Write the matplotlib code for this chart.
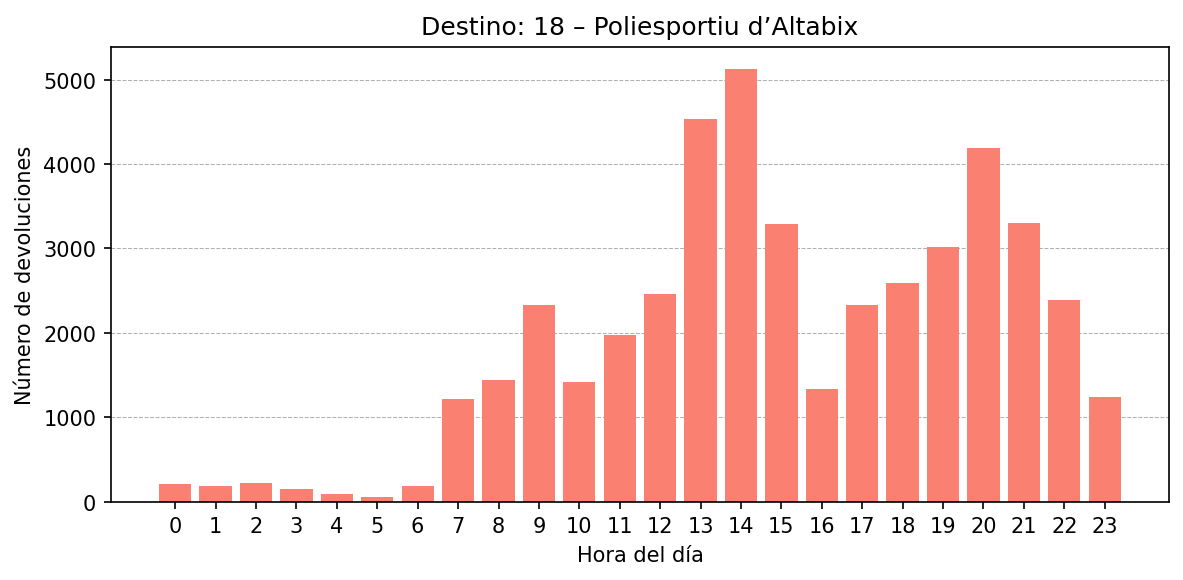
import numpy as np
import matplotlib.pyplot as plt

horas = list(range(24))
devoluciones = [213, 189, 225, 154, 95, 59, 189, 1217, 1442, 2329,
                1418, 1974, 2459, 4539, 5130, 3286, 1336, 2329, 2589, 3014,
                4184, 3298, 2388, 1241]

fig = plt.figure(figsize=(7.8933, 3.8733), dpi=150)
ax = fig.add_axes([0.0937, 0.1345, 0.8936, 0.783])
ax.bar(horas, devoluciones, color='salmon', width=0.8)
ax.set_xticks(horas)
ax.set_title("Destino: 18 – Poliesportiu d’Altabix")
ax.set_xlabel("Hora del día")
ax.set_ylabel("Número de devoluciones")
ax.grid(axis='y', ls='--', lw=0.5)
ax.set_axisbelow(True)
fig.savefig("out.png")
